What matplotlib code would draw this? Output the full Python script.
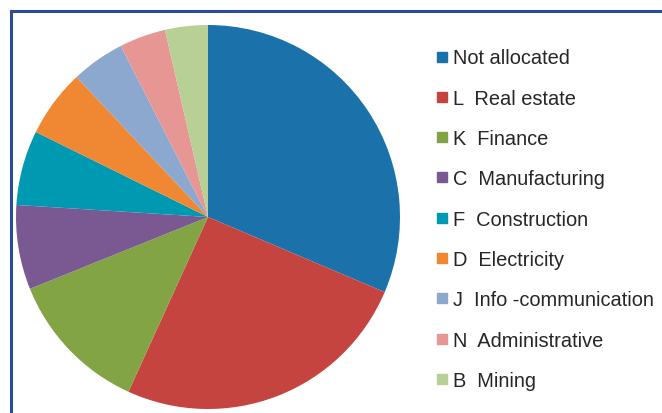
import matplotlib
matplotlib.use("Agg")
import matplotlib.pyplot as plt
from matplotlib.lines import Line2D
from matplotlib.patches import Rectangle

plt.rcParams['font.family'] = ['Liberation Sans', 'DejaVu Sans']

labels = ["Not allocated", "L  Real estate", "K  Finance", "C  Manufacturing",
          "F  Construction", "D  Electricity", "J  Info -communication",
          "N  Administrative", "B  Mining"]
values = [31.4, 25.4, 12.1, 7.1, 6.3, 5.7, 4.5, 3.9, 3.6]
colors = ["#1B72AB", "#C5443F", "#82A445", "#7A5993", "#0099B2",
          "#F08732", "#8CA8CE", "#E69693", "#B8CF96"]

W, H = 662, 414
fig = plt.figure(figsize=(W / 100, H / 100), dpi=100)

cx, cy, r = 208, 218, 192
ax = fig.add_axes([(cx - r) / W, (H - cy - r) / H, 2 * r / W, 2 * r / H])
ax.pie(values, colors=colors, startangle=90, counterclock=False, radius=1,
       wedgeprops=dict(linewidth=0))
ax.set_xlim(-1, 1)
ax.set_ylim(-1, 1)
ax.set_aspect('auto')
ax.axis('off')

handles = [Line2D([0], [0], marker='s', linestyle='none', markersize=7.5,
                  markerfacecolor=c, markeredgecolor=c) for c in colors]
fig.legend(handles, labels, loc='upper left',
           bbox_to_anchor=(436 / W, 1 - 49.5 / H), frameon=False,
           fontsize=14.4, handlelength=0.6, handletextpad=0.25,
           labelspacing=1.065, borderpad=0, borderaxespad=0,
           labelcolor='#262626')

fig.patches.append(Rectangle((10.5 / W, -0.1), 1.2, 1 - 11.5 / H + 0.1,
                             transform=fig.transFigure, fill=False,
                             edgecolor='#2D4B9B', linewidth=2.2))

fig.savefig("out.png", dpi=100)
